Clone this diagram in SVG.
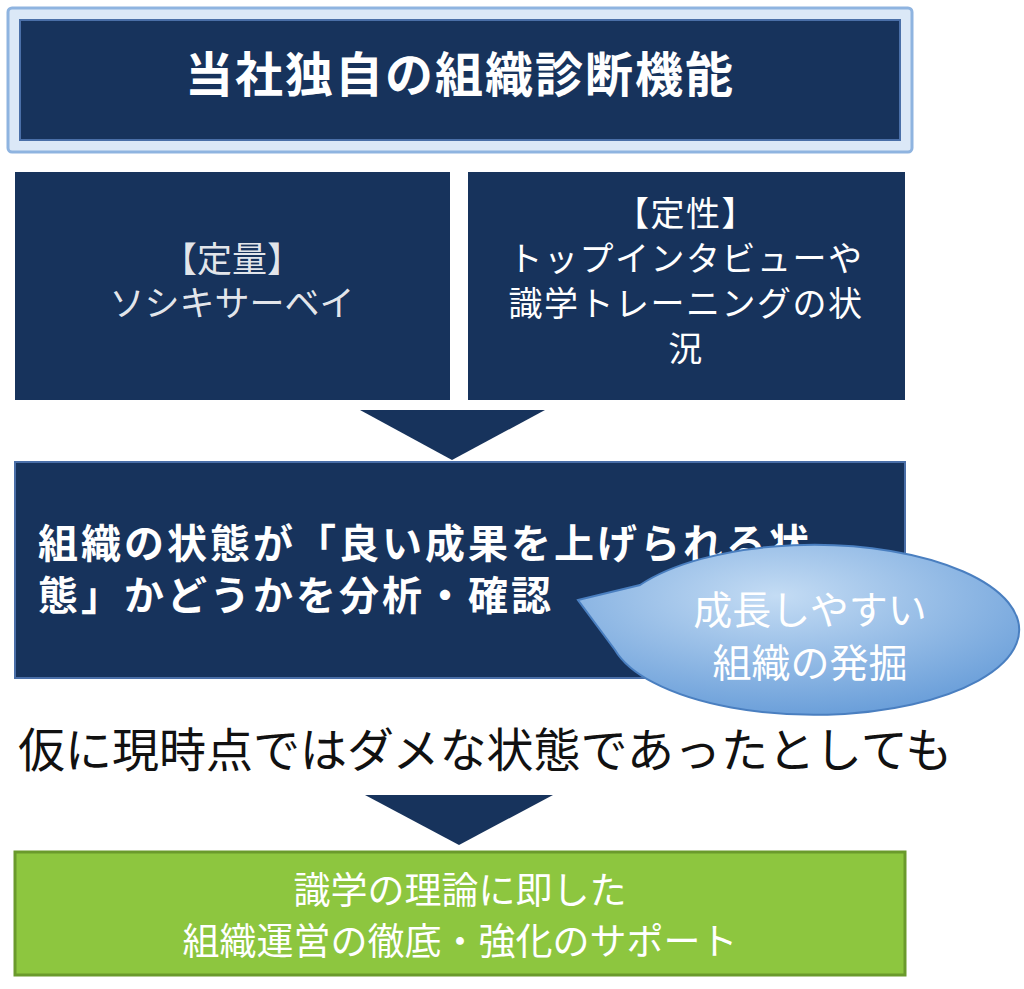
<svg xmlns="http://www.w3.org/2000/svg" width="1024" height="989" viewBox="0 0 1024 989">
<defs>
<style>
.nv{fill:#17335c}
.t{font-family:"Noto Sans CJK JP","Noto Sans",sans-serif;fill:#fff}
</style>
<radialGradient id="bg" cx="0.45" cy="0.3" r="0.8">
<stop offset="0" stop-color="#c4dcf4"/><stop offset="1" stop-color="#5f97d6"/>
</radialGradient>
</defs>
<rect width="1024" height="989" fill="#fff"/>
<g id="title">
<rect x="8" y="8" width="904" height="144" rx="4" fill="#dbe8f7" stroke="#8fb4e0" stroke-width="3"/>
<rect x="20" y="20" width="880" height="120" class="nv" stroke="#4a6fa8" stroke-width="2"/>
<text x="460" y="92" text-anchor="middle" class="t" font-size="48" font-weight="bold" letter-spacing="2">当社独自の組織診断機能</text>
</g>
<g id="quant">
<rect x="15" y="172" width="435" height="228" class="nv"/>
<text class="t" font-size="35" text-anchor="middle" fill-opacity="0.9"><tspan x="232" y="272">【定量】</tspan><tspan x="232" y="316">ソシキサーベイ</tspan></text>
</g>
<g id="qual">
<rect x="468" y="172" width="437" height="228" class="nv"/>
<text class="t" font-size="34" letter-spacing="1.5" text-anchor="middle"><tspan x="686" y="226">【定性】</tspan><tspan x="686" y="271">トップインタビューや</tspan><tspan x="686" y="316">識学トレーニングの状</tspan><tspan x="686" y="361">況</tspan></text>
</g>
<g id="connectors">
<polygon points="360,410 545,410 452,460" class="nv"/>
<polygon points="365,795 553,795 459,845" class="nv"/>
</g>
<g id="analysis">
<rect x="15" y="462" width="890" height="216" class="nv" stroke="#4a6fa8" stroke-width="2"/>
<text class="t" font-size="40" font-weight="bold" letter-spacing="3"><tspan x="38" y="558">組織の状態が「良い成果を上げられる状</tspan><tspan x="38" y="610">態」かどうかを分析・確認</tspan></text>
</g>
<g id="callout">
<path d="M578,600 L640,585 A205,85 0 1 1 615,650 Z" fill="url(#bg)" stroke="#4a7fc0" stroke-width="2"/>
<text class="t" font-size="39" text-anchor="middle"><tspan x="810" y="624">成長しやすい</tspan><tspan x="810" y="677">組織の発掘</tspan></text>
</g>
<text x="18" y="767" font-family="Noto Sans CJK JP,sans-serif" font-size="47" fill="#111">仮に現時点ではダメな状態であったとしても</text>
<g id="support">
<rect x="15" y="852" width="890" height="123" fill="#8dc63f" stroke="#6a9a2c" stroke-width="3"/>
<text class="t" font-size="37" text-anchor="middle"><tspan x="460" y="904">識学の理論に即した</tspan><tspan x="460" y="955">組織運営の徹底・強化のサポート</tspan></text>
</g>
</svg>
